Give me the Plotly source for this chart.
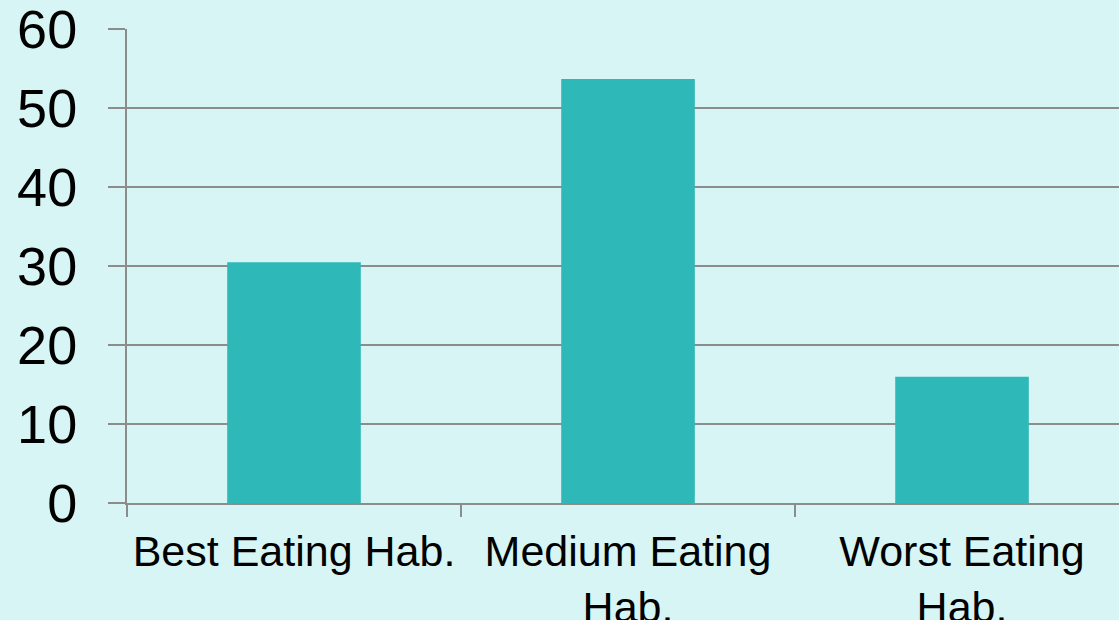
import plotly.graph_objects as go

categories = ["Best Eating Hab.", "Medium Eating<br>Hab.", "Worst Eating<br>Hab."]
values = [30.5, 53.7, 16.0]
y_ticks = [0, 10, 20, 30, 40, 50, 60]

bg = "#D6F5F4"
grid = "#8C8C8C"

fig = go.Figure(go.Bar(x=categories, y=values, marker=dict(color="#2EB8B8", line=dict(width=0)), width=0.4))

fig.update_layout(
    width=1119, height=620,
    paper_bgcolor=bg, plot_bgcolor=bg,
    margin=dict(l=127, r=0, t=29, b=117, autoexpand=False),
    font=dict(family="Liberation Sans, Arial, sans-serif", color="#000000"),
    showlegend=False,
)
fig.update_xaxes(
    range=[-0.5, 2.47], automargin=False,
    showline=True, linecolor=grid, linewidth=2,
    ticks="outside", tickson="boundaries", ticklen=12, tickcolor=grid, tickwidth=2,
    tickfont=dict(size=43), ticklabelstandoff=9, showgrid=False,
)
fig.update_yaxes(
    range=[0, 60.05], tickvals=y_ticks, automargin=False,
    showline=True, linecolor=grid, linewidth=2,
    showgrid=True, gridcolor=grid, gridwidth=2,
    zeroline=False, ticklabeloverflow="allow",
    ticks="outside", ticklen=17, tickcolor=grid, tickwidth=2,
    tickfont=dict(size=54), ticklabelstandoff=20,
)
fig.write_html(
    "out.html",
    config={"displayModeBar": False},
    post_script="document.body.style.margin='0';document.body.style.padding='0';document.body.style.overflow='hidden';",
)
